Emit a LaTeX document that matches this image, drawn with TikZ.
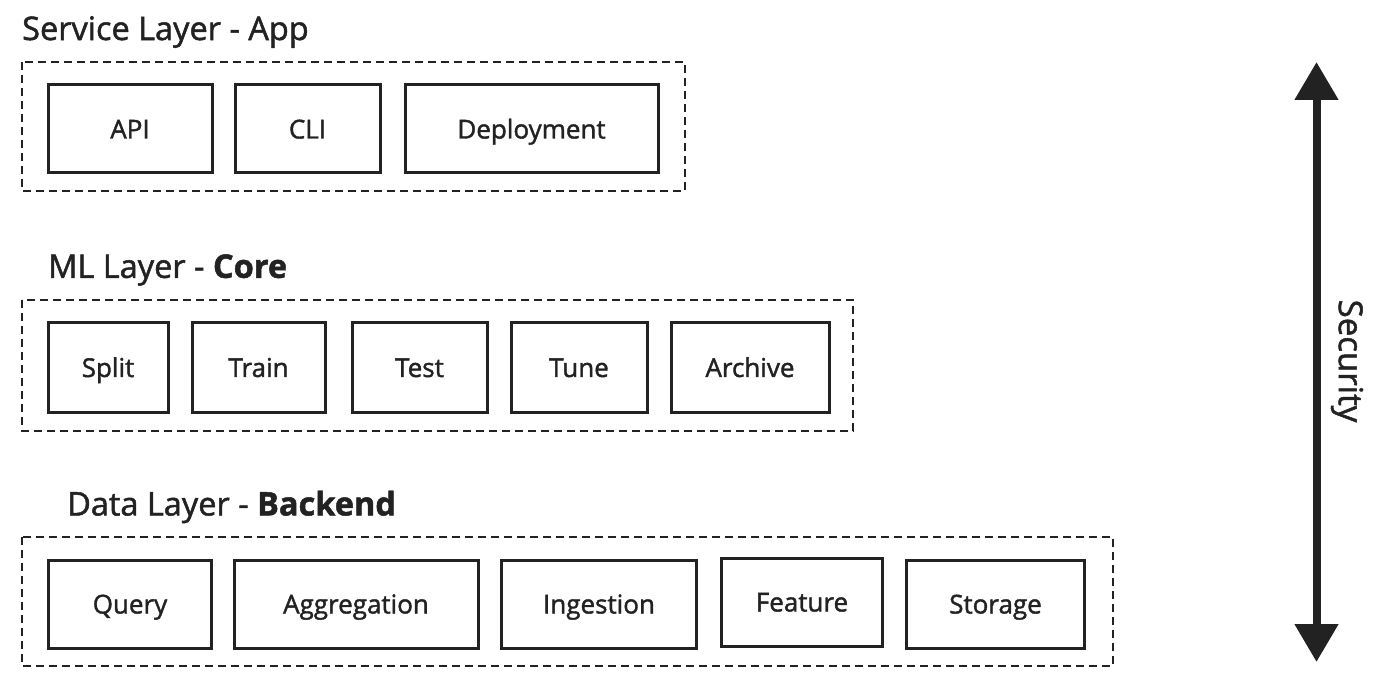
\documentclass[tikz,border=0pt]{standalone}
\usepackage{fontspec}
\setmainfont{Open Sans}
\newfontfamily\semifont{Open Sans}[FakeBold=1.5]
\usetikzlibrary{arrows.meta}
\definecolor{ink}{HTML}{222222}
\tikzset{
  px/.style={x=1pt,y=-1pt},
  layerbox/.style={draw=ink,line width=2pt,dash pattern=on 8pt off 5pt},
  comp/.style={draw=ink,line width=3pt,fill=white,inner sep=0pt,text=ink,
    text height=19pt,text depth=0pt,font=\semifont\fontsize{26}{30}\selectfont},
  ttl/.style={anchor=west,inner sep=0pt,text=ink,font=\semifont\fontsize{32.5}{38}\selectfont},
}
\begin{document}
\begin{tikzpicture}[px]
\useasboundingbox (0,0) rectangle (1400,700);
% Service layer
\node[ttl] (t1) at (22,32) {Service Layer - App};
\draw[layerbox] (22,62) rectangle (685,191);
\node[comp,minimum width=164pt,minimum height=88pt] (api) at (130,129) {API};
\node[comp,minimum width=145pt,minimum height=88pt] (cli) at (307.5,129) {CLI};
\node[comp,minimum width=253pt,minimum height=88pt] (dep) at (531.5,129) {Deployment};
% ML layer
\node[ttl] (t2) at (48,270) {ML Layer - \textbf{Core}};
\draw[layerbox] (22,300) rectangle (853,431);
\node[comp,minimum width=120pt,minimum height=89pt] (split) at (108,367.5) {Split};
\node[comp,minimum width=133pt,minimum height=89pt] (train) at (258.5,367.5) {Train};
\node[comp,minimum width=135pt,minimum height=89pt] (test) at (419.5,367.5) {Test};
\node[comp,minimum width=136pt,minimum height=89pt] (tune) at (579,367.5) {Tune};
\node[comp,minimum width=158pt,minimum height=89pt] (arch) at (750,367.5) {Archive};
% Data layer
\node[ttl] (t3) at (67,507) {Data Layer - \textbf{Backend}};
\draw[layerbox] (22,537) rectangle (1113,666);
\node[comp,minimum width=163pt,minimum height=88pt] (query) at (130,604) {Query};
\node[comp,minimum width=244pt,minimum height=88pt] (agg) at (356,604) {Aggregation};
\node[comp,minimum width=195pt,minimum height=88pt] (ing) at (599,604) {Ingestion};
\node[comp,minimum width=161pt,minimum height=88pt] (feat) at (802,602) {Feature};
\node[comp,minimum width=178pt,minimum height=88pt] (stor) at (995.5,604) {Storage};
% Security arrow
\coordinate (stop) at (1316.5,62);
\coordinate (sbot) at (1316.5,662);
\draw[draw=ink,line width=8pt,{Triangle[length=38pt,width=42pt]}-{Triangle[length=38pt,width=42pt]},fill=ink] (stop) -- (sbot);
\node[rotate=-90,text=ink,inner sep=0pt,font=\semifont\fontsize{33}{38}\selectfont] (sec) at (1347,361) {Security};
\end{tikzpicture}
\end{document}
